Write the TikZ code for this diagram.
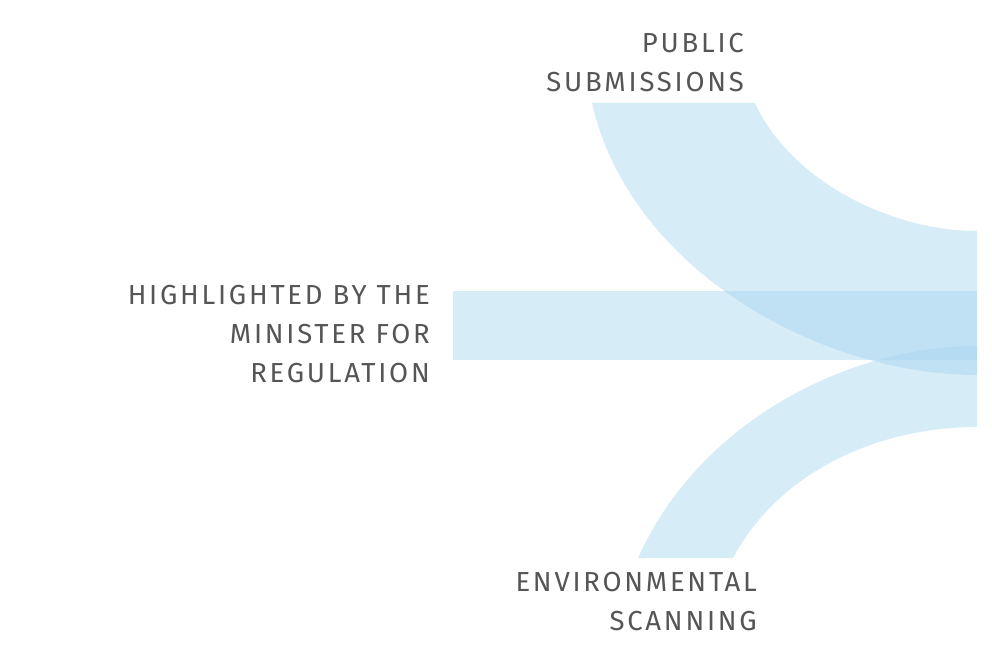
\documentclass[tikz,border=0pt]{standalone}
\usepackage{fontspec}
\setmainfont[LetterSpace=10]{Fira Sans}
\begin{document}
\begin{tikzpicture}[x=1pt,y=-1pt,
  band/.style={fill={rgb,255:red,165;green,212;blue,238},fill opacity=0.45,draw=none},
  lbl/.style={anchor=east,align=right,text={rgb,255:red,85;green,85;blue,85},font=\fontsize{27.5}{39}\selectfont,inner sep=0pt}]
\useasboundingbox (0,0) rectangle (992,655);
\path[band] (592,103) .. controls (630,270) and (820,375) .. (977,375) -- (977,231) .. controls (890,231) and (790,180) .. (755,103) -- cycle;
\path[band] (453,291) rectangle (977,360);
\path[band] (638,558) .. controls (700,420) and (850,346) .. (977,346) -- (977,427) .. controls (880,427) and (780,470) .. (733,558) -- cycle;
\node[lbl] (pub) at (744,63) {PUBLIC\\SUBMISSIONS};
\node[lbl] (min) at (430,334) {HIGHLIGHTED BY THE\\MINISTER FOR\\REGULATION};
\node[lbl] (env) at (757,602) {ENVIRONMENTAL\\SCANNING};
\end{tikzpicture}
\end{document}
